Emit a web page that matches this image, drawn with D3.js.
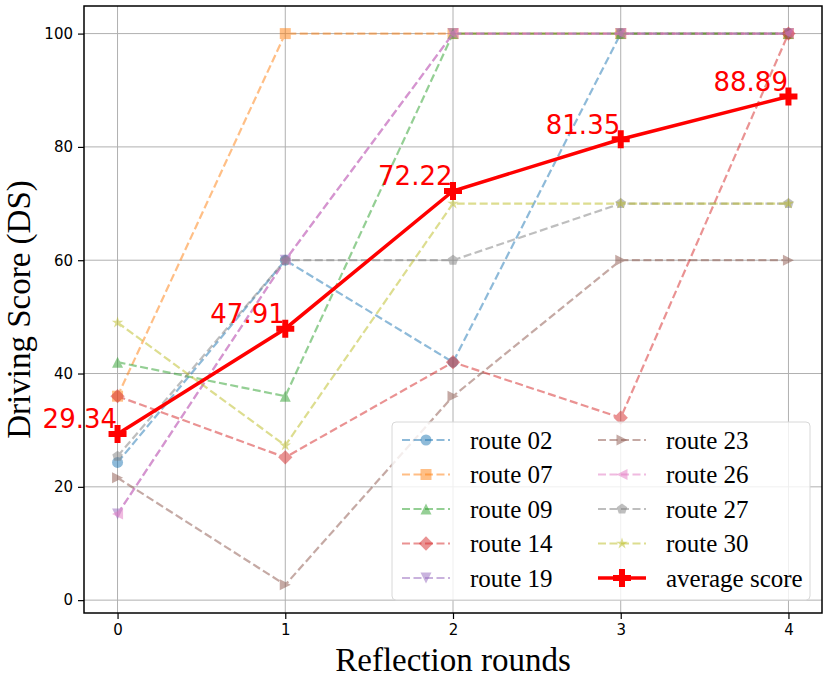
<!DOCTYPE html>
<html>
<head>
<meta charset="utf-8">
<script src="https://cdn.jsdelivr.net/npm/d3@7"></script>
<style>
  html, body { margin: 0; padding: 0; background: #fff; }
  .tick text { font-family: "DejaVu Sans", sans-serif; font-size: 15px; fill: #000; }
</style>
</head>
<body>
<div id="chart"></div>
<script>
const width = 830;
const height = 679;
const margin = {top: 6, right: 8, bottom: 66, left: 84};

// data
const rounds = [0, 1, 2, 3, 4];
const yTicks = [0, 20, 40, 60, 80, 100];
const routeNames = ["route 02", "route 07", "route 09", "route 14", "route 19",
                    "route 23", "route 26", "route 27", "route 30"];
const route02 = [24.3, 60, 42, 100, 100];
const route07 = [36, 100, 100, 100, 100];
const route09 = [42, 36, 100, 100, 100];
const route14 = [36, 25.2, 42, 32.2, 100];
const route19 = [15.2, 60, 100, 100, 100];
const route23 = [21.6, 2.7, 36, 60, 60];
const route26 = [15.2, 60, 100, 100, 100];
const route27 = [25.4, 60, 60, 70, 70];
const route30 = [49, 27.3, 70, 70, 70];
const avgScore = [29.34, 47.91, 72.22, 81.35, 88.89];
const avgLabels = ["29.34", "47.91", "72.22", "81.35", "88.89"];

const routeValues = [route02, route07, route09, route14, route19, route23, route26, route27, route30];
const routeColors = ["#1f77b4", "#ff7f0e", "#2ca02c", "#d62728", "#9467bd",
                     "#8c564b", "#e377c2", "#7f7f7f", "#bcbd22"];
const routeMarkers = ["circle", "square", "triUp", "diamond", "triDown",
                      "triRight", "triLeft", "pentagon", "star"];

// marker shapes, s = marker size in px
function poly(pts) {
    return "M" + pts.map(p => p[0].toFixed(2) + "," + p[1].toFixed(2)).join("L") + "Z";
}
function regular(n, r, rot) {
    return d3.range(n).map(i => {
        const a = rot + i * 2 * Math.PI / n;
        return [r * Math.sin(a), -r * Math.cos(a)];
    });
}
function markerPath(type, s) {
    const h = s / 2;
    switch (type) {
        case "circle": return d3.symbol(d3.symbolCircle, Math.PI * h * h)();
        case "square": return poly([[-h, -h], [h, -h], [h, h], [-h, h]]);
        case "triUp": return poly([[0, -h], [h, h], [-h, h]]);
        case "triDown": return poly([[0, h], [h, -h], [-h, -h]]);
        case "triRight": return poly([[h, 0], [-h, -h], [-h, h]]);
        case "triLeft": return poly([[-h, 0], [h, -h], [h, h]]);
        case "diamond": { const d = h * 1.3; return poly([[0, -d], [d, 0], [0, d], [-d, 0]]); }
        case "pentagon": return poly(regular(5, h, 0));
        case "star": {
            const outer = regular(5, h * 1.1, 0);
            const inner = regular(5, h * 1.1 * 0.382, Math.PI / 5);
            const pts = [];
            for (let i = 0; i < 5; i++) { pts.push(outer[i]); pts.push(inner[i]); }
            return poly(pts);
        }
        case "plus": {
            const a = h, b = h / 3;
            return poly([[-b, -a], [b, -a], [b, -b], [a, -b], [a, b], [b, b],
                         [b, a], [-b, a], [-b, b], [-a, b], [-a, -b], [-b, -b]]);
        }
    }
}

const svg = d3.select("#chart")
    .append("svg")
        .attr("width", width)
        .attr("height", height)
        .attr("viewBox", [0, 0, width, height]);

const x = d3.scaleLinear()
    .domain([-0.2, 4.2])
    .range([margin.left, width - margin.right]);

const y = d3.scaleLinear()
    .domain([-2.27, 104.87])
    .range([height - margin.bottom, margin.top]);

// grid
svg.append("g")
    .attr("stroke", "#b0b0b0")
    .attr("stroke-width", 1)
    .selectAll("line.gx")
    .data(rounds)
    .enter().append("line")
        .attr("x1", d => x(d)).attr("x2", d => x(d))
        .attr("y1", margin.top).attr("y2", height - margin.bottom);
svg.append("g")
    .attr("stroke", "#b0b0b0")
    .attr("stroke-width", 1)
    .selectAll("line.gy")
    .data(yTicks)
    .enter().append("line")
        .attr("y1", d => y(d)).attr("y2", d => y(d))
        .attr("x1", margin.left).attr("x2", width - margin.right);

// axes
const xAxis = svg.append("g")
    .attr("transform", "translate(0," + (height - margin.bottom) + ")")
    .call(d3.axisBottom(x).tickValues(rounds).tickSize(6).tickPadding(5).tickFormat(d3.format("d")));
const yAxis = svg.append("g")
    .attr("transform", "translate(" + margin.left + ",0)")
    .call(d3.axisLeft(y).tickValues(yTicks).tickSize(6).tickPadding(5).tickFormat(d3.format("d")));
[xAxis, yAxis].forEach(a => {
    a.select(".domain").remove();
    a.selectAll(".tick line").attr("stroke", "#000").attr("stroke-width", 1.2);
});

// route lines
const line = d3.line()
    .x((d, i) => x(rounds[i]))
    .y(d => y(d));

const routes = svg.append("g");
routeValues.forEach((vals, k) => {
    const g = routes.append("g").attr("opacity", 0.5);
    g.append("path")
        .datum(vals)
        .attr("d", line)
        .attr("fill", "none")
        .attr("stroke", routeColors[k])
        .attr("stroke-width", 2.2)
        .attr("stroke-dasharray", "8,3.5");
    g.selectAll("path.mk")
        .data(vals)
        .enter().append("path")
            .attr("class", "mk")
            .attr("transform", (d, i) => "translate(" + x(rounds[i]) + "," + y(d) + ")")
            .attr("d", markerPath(routeMarkers[k], 11))
            .attr("fill", routeColors[k]);
});

// average line
svg.append("path")
    .datum(avgScore)
    .attr("d", line)
    .attr("fill", "none")
    .attr("stroke", "#ff0000")
    .attr("stroke-width", 3.5);
svg.append("g").selectAll("path")
    .data(avgScore)
    .enter().append("path")
        .attr("transform", (d, i) => "translate(" + x(rounds[i]) + "," + y(d) + ")")
        .attr("d", markerPath("plus", 18))
        .attr("fill", "#ff0000");

svg.append("g").selectAll("text")
    .data(avgScore)
    .enter().append("text")
        .attr("x", (d, i) => x(rounds[i]) - 0.5)
        .attr("y", d => y(d) - 5.5)
        .attr("text-anchor", "end")
        .attr("font-family", "DejaVu Sans, sans-serif")
        .attr("font-size", 26)
        .attr("fill", "#ff0000")
        .text((d, i) => avgLabels[i]);

// frame
svg.append("rect")
    .attr("x", margin.left)
    .attr("y", margin.top)
    .attr("width", width - margin.left - margin.right)
    .attr("height", height - margin.top - margin.bottom)
    .attr("fill", "none")
    .attr("stroke", "#000")
    .attr("stroke-width", 1.5);

// axis labels
svg.append("text")
    .attr("x", x(2))
    .attr("y", 671)
    .attr("text-anchor", "middle")
    .attr("font-family", "Liberation Serif, serif")
    .attr("font-size", 33)
    .text("Reflection rounds");
svg.append("text")
    .attr("transform", "translate(30," + ((margin.top + height - margin.bottom) / 2) + ") rotate(-90)")
    .attr("text-anchor", "middle")
    .attr("font-family", "Liberation Serif, serif")
    .attr("font-size", 33)
    .text("Driving Score (DS)");

// legend
const legendItems = routeNames.map((n, k) => ({name: n, color: routeColors[k], marker: routeMarkers[k], avg: false}))
    .concat([{name: "average score", color: "#ff0000", marker: "plus", avg: true}]);

const legend = svg.append("g").attr("transform", "translate(392,422)");
legend.append("rect")
    .attr("width", 418)
    .attr("height", 178)
    .attr("rx", 4)
    .attr("fill", "#fff")
    .attr("fill-opacity", 0.8)
    .attr("stroke", "#d8d8d8")
    .attr("stroke-width", 1);

const rowH = 34.5;
const item = legend.selectAll("g.item")
    .data(legendItems)
    .enter().append("g")
        .attr("class", "item")
        .attr("transform", (d, i) => "translate(" + (i < 5 ? 10 : 206) + "," + (18 + (i % 5) * rowH) + ")");

item.append("line")
    .attr("x1", 0).attr("x2", 48)
    .attr("stroke", d => d.color)
    .attr("stroke-width", d => d.avg ? 3.5 : 2.2)
    .attr("stroke-dasharray", d => d.avg ? null : "8,3.5")
    .attr("opacity", d => d.avg ? 1 : 0.5);
item.append("path")
    .attr("transform", "translate(24,0)")
    .attr("d", d => markerPath(d.marker, d.avg ? 18 : 11))
    .attr("fill", d => d.color)
    .attr("opacity", d => d.avg ? 1 : 0.5);
item.append("text")
    .attr("x", 68)
    .attr("y", 8.5)
    .attr("font-family", "Liberation Serif, serif")
    .attr("font-size", 25)
    .text(d => d.name);
</script>
</body>
</html>
